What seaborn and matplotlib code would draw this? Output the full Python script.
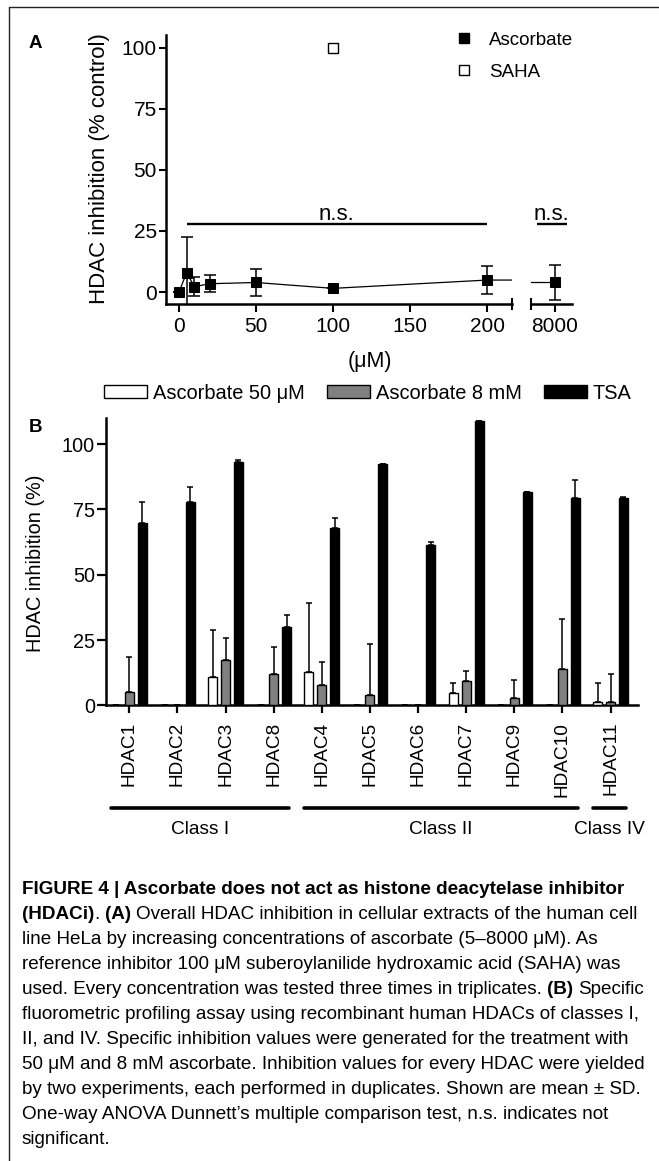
import numpy as np
import pandas as pd
import matplotlib
matplotlib.use("Agg")
import matplotlib.pyplot as plt
import matplotlib.transforms as mtransforms
from matplotlib.lines import Line2D
from matplotlib.patches import Patch
from matplotlib.ticker import NullLocator
import seaborn as sns

# ---------------- data: panel A ----------------
conc = [0, 5, 10, 20, 50, 100, 200, 8000]
asc_mean = [0.0, 7.9, 2.2, 3.4, 3.9, 1.5, 4.9, 3.9]
asc_sd = [0.0, 14.5, 4.0, 3.5, 5.6, 0.0, 5.9, 7.2]
saha_conc = [100]
saha_mean = [100.0]
ns_left = (5, 200)
a_xticks_left = [0, 50, 100, 150, 200]
a_xticks_right = [8000]
a_yticks = [0, 25, 50, 75, 100]

# ---------------- data: panel B ----------------
hdacs = ["HDAC1", "HDAC2", "HDAC3", "HDAC8", "HDAC4", "HDAC5",
         "HDAC6", "HDAC7", "HDAC9", "HDAC10", "HDAC11"]
treatments = ["Ascorbate 50 μM", "Ascorbate 8 mM", "TSA"]
asc50_mean = [0, 0, 11.0, 0, 12.8, 0, 0, 4.6, 0, 0, 1.4]
asc50_sd = [0, 0, 18.0, 0, 26.5, 0, 0, 4.1, 0, 0, 7.3]
asc8_mean = [5.0, 0, 17.4, 12.1, 7.9, 3.9, 0, 9.4, 2.8, 13.9, 1.1]
asc8_sd = [13.4, 0, 8.3, 10.1, 8.7, 19.6, 0, 3.9, 6.9, 19.3, 10.8]
tsa_mean = [69.7, 77.8, 93.2, 30.0, 67.7, 92.3, 61.2, 109.0, 81.6, 79.5, 79.3]
tsa_sd = [8.3, 5.7, 0.8, 4.5, 4.2, 0, 1.2, 0, 0, 6.8, 0.3]
b_yticks = [0, 25, 50, 75, 100]
class_names = ["Class I", "Class II", "Class IV"]
class_members = [["HDAC1", "HDAC2", "HDAC3", "HDAC8"],
                 ["HDAC4", "HDAC5", "HDAC6", "HDAC7", "HDAC9", "HDAC10"],
                 ["HDAC11"]]
palette = {"Ascorbate 50 μM": "white", "Ascorbate 8 mM": "#808080", "TSA": "black"}

caption_lines = [
    [("FIGURE 4 | Ascorbate does not act as histone deacytelase inhibitor", True)],
    [("(HDACi)", True), (". ", False), ("(A)", True),
     (" Overall HDAC inhibition in cellular extracts of the human cell", False)],
    [("line HeLa by increasing concentrations of ascorbate (5–8000 μM). As", False)],
    [("reference inhibitor 100 μM suberoylanilide hydroxamic acid (SAHA) was", False)],
    [("used. Every concentration was tested three times in triplicates. ", False),
     ("(B)", True), (" Specific", False)],
    [("fluorometric profiling assay using recombinant human HDACs of classes I,", False)],
    [("II, and IV. Specific inhibition values were generated for the treatment with", False)],
    [("50 μM and 8 mM ascorbate. Inhibition values for every HDAC were yielded", False)],
    [("by two experiments, each performed in duplicates. Shown are mean ± SD.", False)],
    [("One-way ANOVA Dunnett’s multiple comparison test, n.s. indicates not", False)],
    [("significant.", False)],
]

# ---------------- style ----------------
sns.set_style("ticks")
plt.rcParams["font.family"] = ["Liberation Sans", "DejaVu Sans"]
plt.rcParams["axes.edgecolor"] = "black"
plt.rcParams["xtick.color"] = "black"
plt.rcParams["ytick.color"] = "black"
plt.rcParams["text.color"] = "black"

W, H = 659, 1161
fig = plt.figure(figsize=(W / 100, H / 100), dpi=100)


def fx(px):
    return px / W


def fy(py):
    return 1 - py / H


def axrect(l, t, r, b):
    return [l / W, 1 - b / H, (r - l) / W, (b - t) / H]


# ================= Panel A =================
axA1 = fig.add_axes(axrect(165.7, 35, 511.7, 304))
axA2 = fig.add_axes(axrect(531, 35, 572.3, 304))
xlimA1 = (-8.6, 216)
xlimA2 = (7984.6, 8011.4)

for ax in (axA1, axA2):
    ax.errorbar(conc, asc_mean, yerr=asc_sd, fmt="none", ecolor="black",
                elinewidth=1.1, capsize=4, capthick=1.1, zorder=2)
    sns.lineplot(x=conc, y=asc_mean, ax=ax, color="black", lw=0.9, marker="s",
                 markersize=7.8, markeredgecolor="black", markerfacecolor="black",
                 errorbar=None, legend=False, zorder=3)
    sns.scatterplot(x=saha_conc, y=saha_mean, ax=ax, marker="s", s=60,
                    color="white", edgecolor="black", linewidth=1.0,
                    zorder=4, legend=False)
    ax.set_ylim(-4.9, 105.2)
    ax.set_xlabel("")
    ax.set_ylabel("")
    ax.spines["top"].set_visible(False)
    ax.spines["right"].set_visible(False)
    for s in ax.spines.values():
        s.set_linewidth(1.8)
    ax.yaxis.set_minor_locator(NullLocator())

axA1.set_xlim(*xlimA1)
axA2.set_xlim(*xlimA2)
axA1.set_xticks(a_xticks_left)
axA2.set_xticks(a_xticks_right)
axA1.set_yticks(a_yticks)
axA2.set_yticks([])
axA2.spines["left"].set_visible(False)
axA1.set_xticks([xlimA1[1]], minor=True)
axA2.set_xticks([xlimA2[0]], minor=True)
for ax in (axA1, axA2):
    ax.tick_params(axis="x", which="major", direction="out", length=5.5,
                   width=1.5, labelsize=15, pad=3.5)
    ax.tick_params(axis="x", which="minor", direction="inout", length=8.6,
                   width=1.5)
axA1.tick_params(axis="y", which="major", direction="out", length=5.3,
                 width=1.5, labelsize=15, pad=1.2)
axA2.tick_params(axis="y", left=False, labelleft=False)

# n.s. annotations
axA1.plot(list(ns_left), [28, 28], color="black", lw=1.7, solid_capstyle="butt")
axA1.text(np.mean(ns_left), 29.3, "n.s.", ha="center", va="baseline", fontsize=16)
tr2 = mtransforms.blended_transform_factory(axA2.transAxes, axA2.transData)
axA2.plot([0.15, 0.86], [28, 28], color="black", lw=1.7, transform=tr2,
          solid_capstyle="butt")
axA2.text(0.5, 29.3, "n.s.", ha="center", va="baseline", fontsize=16,
          transform=tr2)

fig.text(fx(100), fy(168.5), "HDAC inhibition (% control)", rotation=90,
         ha="center", va="center", fontsize=16)
fig.text(fx(369.5), fy(361), "(μM)", ha="center", va="center", fontsize=15.5)
fig.text(fx(35.5), fy(43), "A", ha="center", va="center", fontsize=13.5,
         weight="bold")

legA_handles = [
    Line2D([], [], marker="s", ls="none", color="black", markersize=7.6),
    Line2D([], [], marker="s", ls="none", markerfacecolor="white",
           markeredgecolor="black", markersize=7.6, markeredgewidth=1.0),
]
fig.legend(legA_handles, ["Ascorbate", "SAHA"], loc="upper left",
           bbox_to_anchor=(fx(454.6), fy(31.8)), bbox_transform=fig.transFigure,
           frameon=False, fontsize=13.5, handlelength=1.0, handletextpad=0.82,
           labelspacing=0.78, borderpad=0, borderaxespad=0)

# ================= Panel B =================
axB = fig.add_axes(axrect(105.7, 418, 638, 705.3))
df = pd.DataFrame({
    "HDAC": hdacs * 3,
    "treatment": [t for t in treatments for _ in hdacs],
    "value": asc50_mean + asc8_mean + tsa_mean,
})
sns.barplot(data=df, x="HDAC", y="value", hue="treatment", order=hdacs,
            hue_order=treatments, palette=palette, edgecolor="black",
            linewidth=1.0, width=0.8, gap=0.3, errorbar=None, legend=False,
            ax=axB, zorder=3)
for cont, sds in zip(axB.containers, [asc50_sd, asc8_sd, tsa_sd]):
    xs = [p.get_x() + p.get_width() / 2 for p in cont]
    ys = [p.get_height() for p in cont]
    axB.errorbar(xs, ys, yerr=[np.zeros(len(sds)), sds], fmt="none",
                 ecolor="black", elinewidth=1.1, capsize=2.3, capthick=1.1,
                 zorder=2)

axB.set_xlim(-0.49, 10.57)
axB.set_ylim(0, 110)
axB.set_yticks(b_yticks)
axB.set_xlabel("")
axB.set_ylabel("")
axB.spines["top"].set_visible(False)
axB.spines["right"].set_visible(False)
for s in axB.spines.values():
    s.set_linewidth(1.8)
axB.tick_params(axis="x", direction="out", length=6, width=1.6, labelsize=13.7,
                labelrotation=90, pad=6)
axB.tick_params(axis="y", direction="out", length=6.5, width=1.6,
                labelsize=14.3, pad=1.2)

fig.text(fx(36), fy(563), "HDAC inhibition (%)", rotation=90, ha="center",
         va="center", fontsize=14.3)
fig.text(fx(35), fy(428), "B", ha="center", va="center", fontsize=13.5,
         weight="bold")

legB_handles = [Patch(facecolor=palette[t], edgecolor="black", linewidth=1.0)
                for t in treatments]
fig.legend(legB_handles, treatments, loc="center left", ncol=3,
           bbox_to_anchor=(fx(104), fy(393)), bbox_transform=fig.transFigure,
           frameon=False, fontsize=14.4, handlelength=2.15, handleheight=0.65,
           handletextpad=0.3, columnspacing=1.1, borderpad=0, borderaxespad=0)

transB = mtransforms.blended_transform_factory(axB.transData, fig.transFigure)
for name, mem in zip(class_names, class_members):
    i0 = hdacs.index(mem[0])
    i1 = hdacs.index(mem[-1])
    x0, x1 = i0 - 0.37, i1 + 0.32
    axB.plot([x0, x1], [fy(808.3), fy(808.3)], transform=transB, color="black",
             lw=2.6, solid_capstyle="round", clip_on=False)
    axB.text((x0 + x1) / 2, fy(829.3), name, transform=transB, ha="center",
             va="center", fontsize=13.8)

# ================= frame =================
fig.add_artist(Line2D([fx(9.3), fx(9.3)], [fy(7.3), 0], transform=fig.transFigure,
                      color="#222222", lw=1.0))
fig.add_artist(Line2D([fx(9.3), 1], [fy(7.3), fy(7.3)], transform=fig.transFigure,
                      color="#222222", lw=1.0))

# ================= caption =================
fig.canvas.draw()
renderer = fig.canvas.get_renderer()


def twidth(s, size, bold):
    t = fig.text(0, 0, s, fontsize=size, weight="bold" if bold else "normal")
    w = t.get_window_extent(renderer).width
    t.remove()
    return w


def line_width(pieces, size):
    sp = {b: twidth("a a", size, b) - twidth("aa", size, b) for b in (True, False)}
    total = 0.0
    for s, b in pieces:
        core = s.strip(" ")
        lead = len(s) - len(s.lstrip(" "))
        trail = len(s) - len(s.rstrip(" "))
        total += lead * sp[b]
        if core:
            total += twidth(core, size, b)
        total += trail * sp[b]
    return total


base = 12.0
target = 648 - 21.7
cap_size = base * target / line_width(caption_lines[4], base)
sp = {b: twidth("a a", cap_size, b) - twidth("aa", cap_size, b) for b in (True, False)}

y0 = 889.3
for k, pieces in enumerate(caption_lines):
    x = 21.7
    y = y0 + 25 * k
    for s, b in pieces:
        core = s.strip(" ")
        lead = len(s) - len(s.lstrip(" "))
        trail = len(s) - len(s.rstrip(" "))
        x += lead * sp[b]
        if core:
            t = fig.text(fx(x), fy(y), core, fontsize=cap_size,
                         weight="bold" if b else "normal", ha="left", va="center")
            x += t.get_window_extent(renderer).width
        x += trail * sp[b]

fig.savefig("out.png", dpi=100)
